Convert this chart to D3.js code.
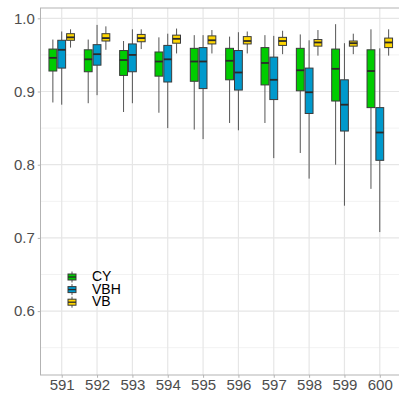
<!DOCTYPE html>
<html>
<head>
<meta charset="utf-8">
<script src="https://cdn.jsdelivr.net/npm/d3@7"></script>
<style>
  html, body { margin: 0; padding: 0; background: #fff; }
  svg { display: block; font-family: "Liberation Sans", Arial, sans-serif; }
</style>
</head>
<body>
<svg id="chart" width="399" height="393"></svg>
<script>
// Positions along the x axis
const categories = ["591", "592", "593", "594", "595", "596", "597", "598", "599", "600"];
const seriesNames = ["CY", "VBH", "VB"];
const seriesColors = ["#00cc00", "#0099cc", "#ffd700"];

// Box statistics per position: [lower whisker, Q1, median, Q3, upper whisker]
const cyStats = [
  [0.885, 0.928, 0.946, 0.958, 0.971],
  [0.884, 0.927, 0.944, 0.957, 0.971],
  [0.872, 0.922, 0.943, 0.956, 0.969],
  [0.871, 0.921, 0.941, 0.954, 0.974],
  [0.848, 0.914, 0.941, 0.959, 0.977],
  [0.857, 0.916, 0.942, 0.959, 0.975],
  [0.857, 0.909, 0.939, 0.960, 0.977],
  [0.816, 0.901, 0.929, 0.959, 0.978],
  [0.800, 0.887, 0.931, 0.958, 0.992],
  [0.767, 0.878, 0.928, 0.957, 0.985]
];
const vbhStats = [
  [0.882, 0.932, 0.957, 0.970, 0.982],
  [0.895, 0.936, 0.951, 0.964, 0.991],
  [0.884, 0.927, 0.950, 0.965, 0.985],
  [0.850, 0.913, 0.944, 0.963, 0.979],
  [0.835, 0.904, 0.941, 0.960, 0.977],
  [0.847, 0.902, 0.926, 0.956, 0.981],
  [0.809, 0.889, 0.916, 0.947, 0.976],
  [0.781, 0.870, 0.899, 0.932, 0.970],
  [0.744, 0.846, 0.882, 0.916, 0.966],
  [0.708, 0.806, 0.844, 0.878, 0.959]
];
const vbStats = [
  [0.960, 0.970, 0.974, 0.979, 0.985],
  [0.957, 0.969, 0.973, 0.979, 0.989],
  [0.958, 0.968, 0.973, 0.978, 0.985],
  [0.952, 0.966, 0.972, 0.977, 0.986],
  [0.952, 0.965, 0.970, 0.976, 0.984],
  [0.952, 0.965, 0.969, 0.975, 0.982],
  [0.951, 0.963, 0.969, 0.974, 0.983],
  [0.949, 0.962, 0.967, 0.971, 0.984],
  [0.951, 0.962, 0.966, 0.969, 0.979],
  [0.949, 0.960, 0.967, 0.973, 0.985]
];
const yMajorTicks = [0.6, 0.7, 0.8, 0.9, 1.0];
const yMinorTicks = [0.55, 0.65, 0.75, 0.85, 0.95];

const allStats = [cyStats, vbhStats, vbStats];

const svg = d3.select("#chart");
const panel = { left: 40.5, right: 401, top: 8, bottom: 375 };

const x = d3.scalePoint()
  .domain(categories)
  .range([panel.left, panel.right])
  .padding(0.6);

const y = d3.scaleLinear()
  .domain([0.5127, 1.0141])
  .range([panel.bottom, panel.top]);

const dodge = x.step() * 0.25;
const boxW = dodge - 1;

// Grid
const grid = svg.append("g");
grid.selectAll(".minor").data(yMinorTicks).join("line")
  .attr("x1", panel.left).attr("x2", panel.right)
  .attr("y1", d => y(d)).attr("y2", d => y(d))
  .attr("stroke", "#f2f2f2").attr("stroke-width", 1);
grid.selectAll(".major").data(yMajorTicks).join("line")
  .attr("x1", panel.left).attr("x2", panel.right)
  .attr("y1", d => y(d)).attr("y2", d => y(d))
  .attr("stroke", "#e6e6e6").attr("stroke-width", 1.2);
grid.selectAll(".vmajor").data(categories).join("line")
  .attr("x1", d => x(d)).attr("x2", d => x(d))
  .attr("y1", panel.top).attr("y2", panel.bottom)
  .attr("stroke", "#e6e6e6").attr("stroke-width", 1.2);

// Boxes
const boxes = svg.append("g");
allStats.forEach((stats, si) => {
  const g = boxes.append("g");
  const cx = (d, i) => x(categories[i]) + (si - 1) * dodge;
  g.selectAll("line.whisk-up").data(stats).join("line")
    .attr("x1", cx).attr("x2", cx)
    .attr("y1", d => y(d[4])).attr("y2", d => y(d[3]))
    .attr("stroke", "#555").attr("stroke-width", 1);
  g.selectAll("line.whisk-dn").data(stats).join("line")
    .attr("x1", cx).attr("x2", cx)
    .attr("y1", d => y(d[1])).attr("y2", d => y(d[0]))
    .attr("stroke", "#555").attr("stroke-width", 1);
  g.selectAll("rect").data(stats).join("rect")
    .attr("x", (d, i) => cx(d, i) - boxW / 2)
    .attr("width", boxW)
    .attr("y", d => y(d[3]))
    .attr("height", d => y(d[1]) - y(d[3]))
    .attr("fill", seriesColors[si])
    .attr("stroke", "#3a3a3a").attr("stroke-width", 1);
  g.selectAll("line.med").data(stats).join("line")
    .attr("x1", (d, i) => cx(d, i) - boxW / 2)
    .attr("x2", (d, i) => cx(d, i) + boxW / 2)
    .attr("y1", d => y(d[2])).attr("y2", d => y(d[2]))
    .attr("stroke", "#2a2a2a").attr("stroke-width", 1.8);
});

// Panel border
svg.append("rect")
  .attr("x", panel.left).attr("y", panel.top)
  .attr("width", panel.right - panel.left).attr("height", panel.bottom - panel.top)
  .attr("fill", "none").attr("stroke", "#b3b3b3").attr("stroke-width", 1);

// Axes
const yAxis = svg.append("g")
  .attr("transform", `translate(${panel.left},0)`)
  .call(d3.axisLeft(y).tickValues(yMajorTicks).tickFormat(d3.format(".1f")).tickSize(2.75).tickPadding(3));
const xAxis = svg.append("g")
  .attr("transform", `translate(0,${panel.bottom})`)
  .call(d3.axisBottom(x).tickSize(2.75).tickPadding(2));
[yAxis, xAxis].forEach(a => {
  a.select(".domain").remove();
  a.selectAll(".tick line").attr("stroke", "#b3b3b3");
  a.selectAll(".tick text").attr("fill", "#4d4d4d").style("font-size", "15px")
    .style("font-family", "'Liberation Sans', Arial, sans-serif");
});

// Legend
const legend = svg.append("g").attr("transform", "translate(72,277)");
seriesNames.forEach((name, i) => {
  const row = legend.append("g").attr("transform", `translate(0,${i * 12.6})`);
  row.append("line").attr("x1", 0).attr("x2", 0).attr("y1", -5.5).attr("y2", 5.5)
    .attr("stroke", "#555").attr("stroke-width", 1);
  row.append("rect").attr("x", -4).attr("y", -3).attr("width", 8).attr("height", 6)
    .attr("fill", seriesColors[i]).attr("stroke", "#3a3a3a").attr("stroke-width", 1);
  row.append("line").attr("x1", -4).attr("x2", 4).attr("y1", 0).attr("y2", 0)
    .attr("stroke", "#2a2a2a").attr("stroke-width", 1.3);
  row.append("text").attr("x", 20).attr("y", -1).attr("dy", "0.36em")
    .attr("fill", "#000").style("font-size", "14px").text(name);
});
</script>
</body>
</html>
